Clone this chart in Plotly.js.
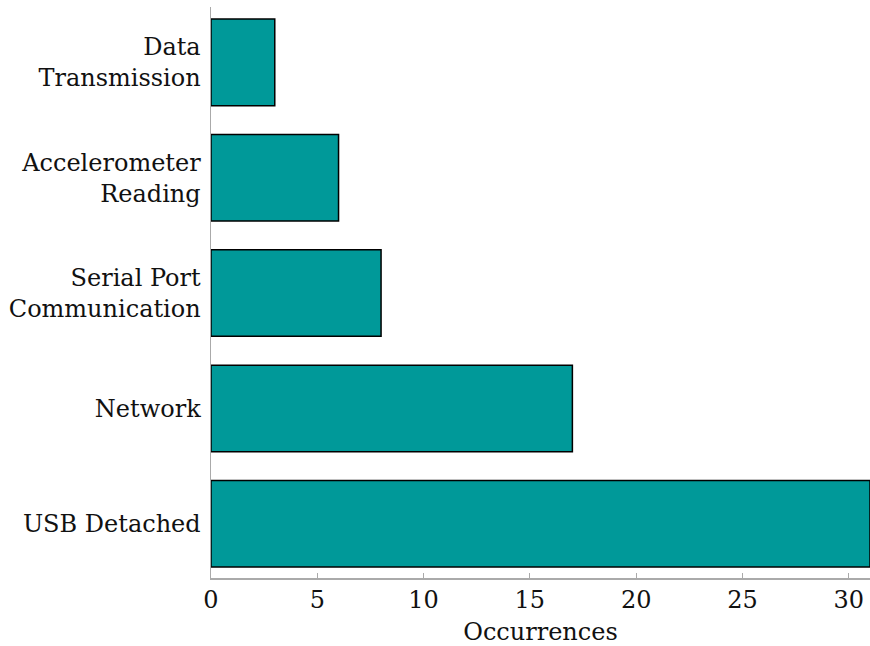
<!DOCTYPE html>
<html><head><meta charset="utf-8">
<script src="https://cdn.plot.ly/plotly-3.0.1.min.js"></script>
<style>html,body{margin:0;padding:0;background:#fff}</style>
</head><body>
<div id="chart" style="width:870px;height:646px"></div>
<script>
const categories = ["USB Detached", "Network", "Serial Port<br>Communication", "Accelerometer<br>Reading", "Data<br>Transmission"];
const occurrences = [31, 17, 8, 6, 3];
const xTicks = [0, 5, 10, 15, 20, 25, 30];

const font = "DejaVu Serif, serif";

Plotly.newPlot("chart", [{
  type: "bar",
  orientation: "h",
  y: categories,
  x: occurrences,
  width: 0.75,
  marker: {color: "#009999", line: {color: "#000000", width: 1.5}},
  hoverinfo: "x+y"
}], {
  width: 870, height: 646,
  margin: {l: 211, r: 0, t: 7, b: 68},
  paper_bgcolor: "#ffffff", plot_bgcolor: "#ffffff",
  font: {family: font, size: 24, color: "#111111"},
  showlegend: false,
  xaxis: {
    range: [0, 31], tickvals: xTicks, ticktext: xTicks.map(String),
    showgrid: false, zeroline: false,
    showline: true, linecolor: "#aaaaaa", linewidth: 1.5,
    ticks: "inside", ticklen: 5, tickcolor: "#aaaaaa", tickwidth: 1,
    tickfont: {family: font, size: 24, color: "#111111"},
    title: {text: "Occurrences", font: {family: font, size: 24, color: "#111111"}, standoff: 10}
  },
  yaxis: {
    type: "category", range: [-0.47, 4.48],
    showgrid: false, zeroline: false,
    showline: true, linecolor: "#aaaaaa", linewidth: 1.5,
    ticks: "", ticklabelstandoff: 4,
    tickfont: {family: font, size: 24, color: "#111111"}
  }
}, {displayModeBar: false, staticPlot: true});
</script>
</body></html>
